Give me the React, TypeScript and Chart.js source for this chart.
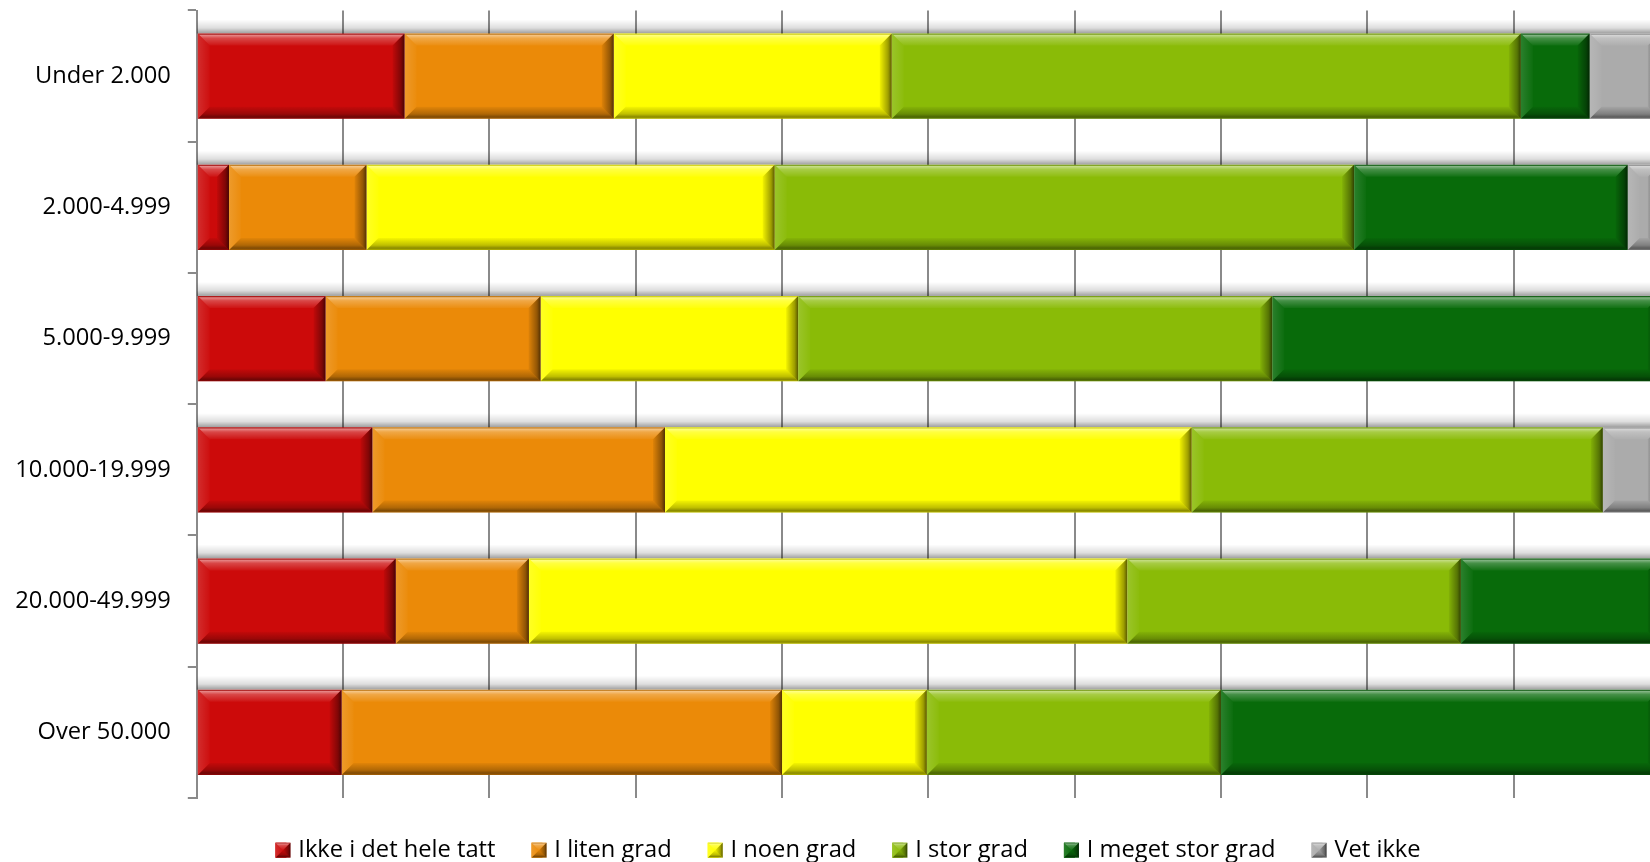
import React, { useEffect, useRef } from "react";
import { Chart, registerables } from "chart.js";

Chart.register(...registerables);

const categories = ["Under 2.000", "2.000-4.999", "5.000-9.999", "10.000-19.999", "20.000-49.999", "Over 50.000"];
const seriesNames = ["Ikke i det hele tatt", "I liten grad", "I noen grad", "I stor grad", "I meget stor grad", "Vet ikke"];
const ikkeIDetHeleTatt = [14.2, 2.2, 8.8, 12.0, 13.6, 9.9];
const iLitenGrad = [14.3, 9.4, 14.7, 20.0, 9.1, 30.1];
const iNoenGrad = [19.0, 27.9, 17.6, 36.0, 40.9, 9.9];
const iStorGrad = [43.0, 39.6, 32.4, 28.1, 22.8, 20.1];
const iMegetStorGrad = [4.7, 18.7, 26.5, 0, 13.6, 30.0];
const vetIkke = [4.8, 2.2, 0, 3.9, 0, 0];
const seriesColors = ["#cc0a0a", "#eb8a08", "#ffff00", "#8abb07", "#086b0a", "#ababab"];
const xTickStep = 10;

const FONT = { family: "'Open Sans', sans-serif", size: 23.7 };
const GRID = "#8a8a8a";

type Pt = [number, number];

function poly(ctx: CanvasRenderingContext2D, pts: Pt[], fill: CanvasGradient | string) {
  ctx.beginPath();
  ctx.moveTo(pts[0][0], pts[0][1]);
  for (let i = 1; i < pts.length; i++) ctx.lineTo(pts[i][0], pts[i][1]);
  ctx.closePath();
  ctx.fillStyle = fill;
  ctx.fill();
}

function bevel(ctx: CanvasRenderingContext2D, l: number, t: number, r: number, b: number, maxB: number) {
  const w = r - l;
  const h = b - t;
  if (w < 1 || h < 1) return;
  const bw = Math.min(maxB, w / 2, h / 2);
  let g = ctx.createLinearGradient(0, t, 0, t + bw);
  g.addColorStop(0, "rgba(0,0,0,0.12)");
  g.addColorStop(0.15, "rgba(255,255,255,0.5)");
  g.addColorStop(0.4, "rgba(255,255,255,0.25)");
  g.addColorStop(1, "rgba(255,255,255,0.04)");
  poly(ctx, [[l, t], [r, t], [r - bw, t + bw], [l + bw, t + bw]], g);

  g = ctx.createLinearGradient(0, b - bw, 0, b);
  g.addColorStop(0, "rgba(0,0,0,0.04)");
  g.addColorStop(0.6, "rgba(0,0,0,0.25)");
  g.addColorStop(0.85, "rgba(0,0,0,0.46)");
  g.addColorStop(1, "rgba(0,0,0,0.3)");
  poly(ctx, [[l, b], [r, b], [r - bw, b - bw], [l + bw, b - bw]], g);

  g = ctx.createLinearGradient(l, 0, l + bw, 0);
  g.addColorStop(0, "rgba(255,255,255,0.14)");
  g.addColorStop(1, "rgba(255,255,255,0.02)");
  poly(ctx, [[l, t], [l + bw, t + bw], [l + bw, b - bw], [l, b]], g);

  g = ctx.createLinearGradient(r - bw, 0, r, 0);
  g.addColorStop(0, "rgba(0,0,0,0.05)");
  g.addColorStop(0.7, "rgba(0,0,0,0.38)");
  g.addColorStop(1, "rgba(0,0,0,0.65)");
  poly(ctx, [[r, t], [r - bw, t + bw], [r - bw, b - bw], [r, b]], g);
}

const bevelPlugin = {
  id: "bevelPlugin",
  beforeDatasetsDraw(chart: any) {
    const ctx = chart.ctx as CanvasRenderingContext2D;
    const area = chart.chartArea;
    const metas = chart.getSortedVisibleDatasetMetas();
    if (!metas.length) return;
    ctx.save();
    for (let i = 0; i < categories.length; i++) {
      const el = metas[0].data[i];
      if (!el) continue;
      const p = el.getProps(["y", "height"], true);
      const top = p.y - p.height / 2;
      let right = area.left;
      metas.forEach((m: any) => {
        const e = m.data[i];
        if (e) {
          const q = e.getProps(["x", "base"], true);
          right = Math.max(right, q.x, q.base);
        }
      });
      const sh = 14;
      const g = ctx.createLinearGradient(0, top - sh, 0, top);
      g.addColorStop(0, "rgba(0,0,0,0)");
      g.addColorStop(0.6, "rgba(0,0,0,0.13)");
      g.addColorStop(1, "rgba(0,0,0,0.38)");
      ctx.fillStyle = g;
      ctx.fillRect(area.left, top - sh, right - area.left, sh);
    }
    ctx.restore();
  },
  afterDatasetsDraw(chart: any) {
    const ctx = chart.ctx as CanvasRenderingContext2D;
    const area = chart.chartArea;
    ctx.save();
    ctx.beginPath();
    ctx.rect(area.left, area.top - 20, area.right - area.left, area.bottom - area.top + 40);
    ctx.clip();
    chart.getSortedVisibleDatasetMetas().forEach((m: any) => {
      m.data.forEach((e: any) => {
        const p = e.getProps(["x", "y", "base", "height"], true);
        const l = Math.min(p.x, p.base);
        const r = Math.max(p.x, p.base);
        bevel(ctx, l, p.y - p.height / 2, r, p.y + p.height / 2, 12);
      });
    });
    ctx.restore();
  },
  afterDraw(chart: any) {
    const legend = chart.legend;
    if (!legend || !legend.legendHitBoxes || !legend.legendItems) return;
    const ctx = chart.ctx as CanvasRenderingContext2D;
    const bh = 15;
    const bwid = 15;
    ctx.save();
    legend.legendHitBoxes.forEach((hb: any, i: number) => {
      const item = legend.legendItems[i];
      const top = hb.top + Math.max((FONT.size - bh) / 2, 0);
      ctx.fillStyle = item ? item.fillStyle : "#000";
      ctx.fillRect(hb.left, top, bwid, bh);
      bevel(ctx, hb.left, top, hb.left + bwid, top + bh, 7.5);
    });
    ctx.restore();
  },
};

export default function App() {
  const ref = useRef<HTMLCanvasElement | null>(null);

  useEffect(() => {
    if (!ref.current) return;
    const seriesValues = [ikkeIDetHeleTatt, iLitenGrad, iNoenGrad, iStorGrad, iMegetStorGrad, vetIkke];
    const chart = new Chart(ref.current, {
      type: "bar",
      data: {
        labels: categories,
        datasets: seriesNames.map((name, i) => ({
          label: name,
          data: seriesValues[i],
          backgroundColor: seriesColors[i],
          borderWidth: 0,
          categoryPercentage: 0.65,
          barPercentage: 1,
        })),
      },
      options: {
        indexAxis: "y",
        animation: false,
        responsive: false,
        events: [],
        layout: { padding: { top: 10.5, left: 0, right: 0, bottom: 0 } },
        scales: {
          x: {
            stacked: true,
            min: 0,
            max: 102.47,
            ticks: { display: false, stepSize: xTickStep },
            grid: { color: GRID, lineWidth: 2, drawTicks: false },
            border: { display: false },
            afterFit: (s: any) => {
              s.height = 4.4;
              s.paddingLeft = 0;
              s.paddingRight = 0;
            },
          },
          y: {
            stacked: true,
            ticks: { font: FONT, color: "#000", padding: 17 },
            grid: { drawOnChartArea: false, drawTicks: true, tickLength: 9, color: GRID, lineWidth: 2 },
            border: { display: true, color: GRID, width: 2 },
            afterFit: (s: any) => {
              s.width = 196.8;
              s.paddingTop = 0;
              s.paddingBottom = 0;
            },
          },
        },
        plugins: {
          legend: {
            position: "bottom",
            labels: { font: FONT, color: "#000", boxWidth: 11, boxHeight: 15, padding: 36 },
          },
          tooltip: { enabled: false },
        },
      },
      plugins: [bevelPlugin],
    } as any);
    let alive = true;
    if ((document as any).fonts && (document as any).fonts.ready) {
      (document as any).fonts.ready.then(() => {
        if (alive) chart.update();
      });
    }
    return () => {
      alive = false;
      chart.destroy();
    };
  }, []);

  return (
    <div style={{ position: "fixed", left: 0, top: 0, width: 1650, height: 862, overflow: "hidden", background: "#fff" }}>
      <canvas ref={ref} width={1696} height={872} style={{ display: "block" }} />
    </div>
  );
}
